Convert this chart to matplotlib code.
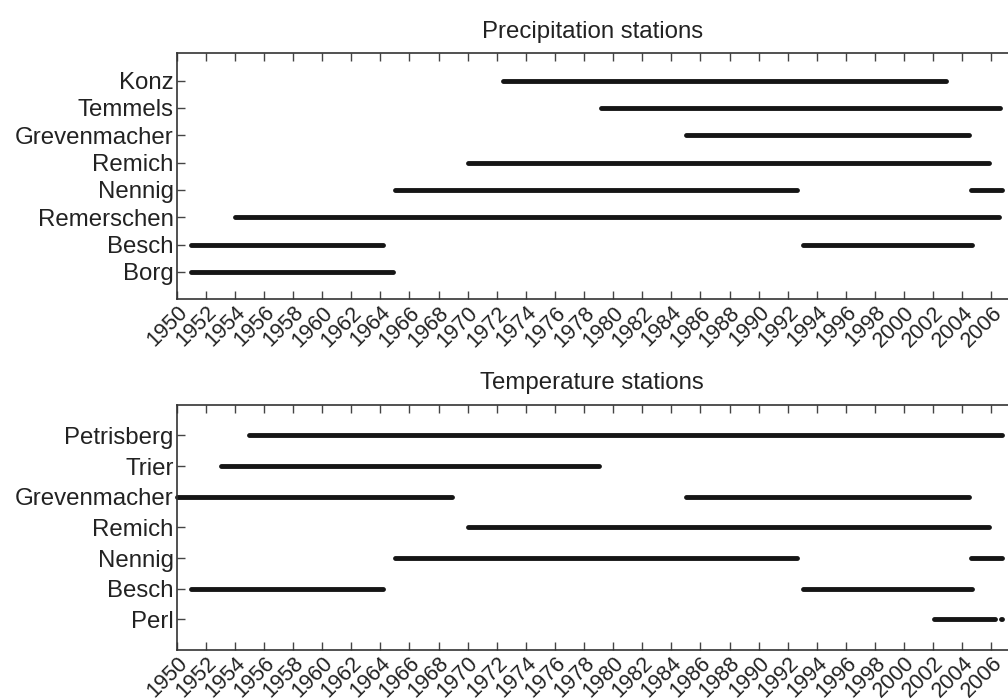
import matplotlib
matplotlib.use("Agg")
import matplotlib.pyplot as plt

# ---- data ----
precip_stations = ["Konz", "Temmels", "Grevenmacher", "Remich", "Nennig",
                   "Remerschen", "Besch", "Borg"]
precip_periods = {
    "Konz": [(1972.4, 2002.9)],
    "Temmels": [(1979.2, 2006.6)],
    "Grevenmacher": [(1985.0, 2004.45)],
    "Remich": [(1970.0, 2005.85)],
    "Nennig": [(1965.0, 1992.65), (2004.6, 2006.75)],
    "Remerschen": [(1954.0, 2006.55)],
    "Besch": [(1951.0, 1964.2), (1993.05, 2004.65)],
    "Borg": [(1951.0, 1964.9)],
}

temp_stations = ["Petrisberg", "Trier", "Grevenmacher", "Remich", "Nennig",
                 "Besch", "Perl"]
temp_periods = {
    "Petrisberg": [(1955.0, 2006.7)],
    "Trier": [(1953.05, 1979.0)],
    "Grevenmacher": [(1950.0, 1968.9), (1985.0, 2004.45)],
    "Remich": [(1970.0, 2005.85)],
    "Nennig": [(1965.0, 1992.65), (2004.6, 2006.75)],
    "Besch": [(1951.0, 1964.2), (1993.05, 2004.65)],
    "Perl": [(2002.05, 2006.25), (2006.65, 2006.75)],
}

year_ticks = list(range(1950, 2007, 2))
titles = ["Precipitation stations", "Temperature stations"]

# ---- figure ----
plt.rcParams['font.family'] = ['Liberation Sans', 'DejaVu Sans']
fig = plt.figure(figsize=(10.08, 7.0), dpi=100)

W, H = 1008, 700
left = 176.6 / W
ax_boxes = [
    [left, 1 - 299.3 / H, 1.0 - left, (299.3 - 53.3) / H],
    [left, 1 - 650.0 / H, 1.0 - left, (650.0 - 404.7) / H],
]

text_color = "#222222"
line_color = "#151515"
fs = 17.3
fs_x = 15.6

for box, stations, periods, title in zip(
        ax_boxes, [precip_stations, temp_stations],
        [precip_periods, temp_periods], titles):
    ax = fig.add_axes(box)
    n = len(stations)
    for i, name in enumerate(stations):
        y = n - i
        for (s, e) in periods[name]:
            ax.plot([s, e], [y, y], color=line_color, lw=3.5,
                    solid_capstyle="round", clip_on=False)
    ax.set_xlim(1950, 2007.14)
    ax.set_ylim(0, n + 1)
    ax.set_yticks([n - i for i in range(n)])
    ax.set_yticklabels(stations, fontsize=fs, color=text_color)
    ax.set_xticks(year_ticks)
    ax.set_xticklabels([str(t) for t in year_ticks], rotation=45,
                       ha="right", rotation_mode="anchor", fontsize=fs_x,
                       color=text_color)
    ax.tick_params(axis="both", direction="in", length=6, width=1,
                   color="#444444", top=True, right=False, pad=2)
    ax.tick_params(axis="x", pad=2)
    for side in ["left", "top", "bottom"]:
        ax.spines[side].set_color("#333333")
        ax.spines[side].set_linewidth(1.2)
    ax.spines["right"].set_visible(False)
    ax.set_title(title, fontsize=fs, color=text_color, pad=11)

fig.savefig("out.png", dpi=100)
